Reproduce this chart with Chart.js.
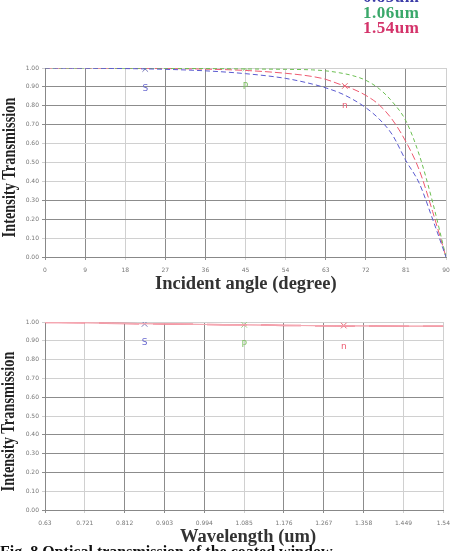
<!DOCTYPE html>
<html>
<head>
<meta charset="utf-8">
<script src="https://cdn.jsdelivr.net/npm/chart.js@4"></script>
<style>
  html, body { margin: 0; padding: 0; background: #fff; }
  #page { position: relative; width: 457px; height: 551px; overflow: hidden; background: #fff; }
  canvas { position: absolute; left: 0; }
  .txt { position: absolute; font-family: "Liberation Serif", "DejaVu Serif", serif; font-weight: bold; white-space: nowrap; }
  .legend { font-size: 17px; left: 363px; letter-spacing: 0.5px; }
  .ytitle { font-size: 18px; color: #222; width: 200px; text-align: center; transform-origin: center center; transform: rotate(-90deg) scaleX(0.8); }
  .xtitle { font-size: 18.5px; color: #333; }
</style>
</head>
<body>
<div id="page">
  <canvas id="angleChart" width="457" height="300" style="top:0"></canvas>
  <canvas id="waveChart" width="457" height="251" style="top:300px"></canvas>

  <div class="txt legend" style="top:-13px; color:#3d3da8;">0.85um</div>
  <div class="txt legend" style="top:3px; color:#3aa86a;">1.06um</div>
  <div class="txt legend" style="top:18px; color:#d4336a;">1.54um</div>

  <div class="txt ytitle" style="left:-91px; top:157px;">Intensity Transmission</div>
  <div class="txt ytitle" style="left:-92px; top:411px;">Intensity Transmission</div>

  <div class="txt xtitle" style="left:155px; top:273px;">Incident angle (degree)</div>
  <div class="txt xtitle" style="left:180px; top:526px;">Wavelength (um)</div>

  <div class="txt" style="left:0; top:543px; font-size:16px; color:#111;">Fig. 8 Optical transmission of the coated window</div>
</div>

<script>
// Top chart: transmission vs incident angle
const angleX = [0, 9, 18, 27, 36, 45, 54, 60, 63, 66, 69, 72, 75, 78, 81, 84, 87, 90];
const blueAngle = [1.0, 0.999, 0.997, 0.993, 0.985, 0.97, 0.945, 0.915, 0.895, 0.87, 0.835, 0.79, 0.73, 0.645, 0.51, 0.39, 0.2, 0.0];
const greenAngle = [1.0, 1.0, 0.999, 0.998, 0.997, 0.995, 0.993, 0.99, 0.985, 0.975, 0.96, 0.935, 0.89, 0.82, 0.72, 0.54, 0.29, 0.0];
const redAngle = [1.0, 1.0, 0.999, 0.997, 0.994, 0.987, 0.972, 0.955, 0.94, 0.915, 0.89, 0.855, 0.805, 0.725, 0.61, 0.46, 0.24, 0.0];
const angleTicks = [0, 9, 18, 27, 36, 45, 54, 63, 72, 81, 90];
const angleTickLabels = ['0', '9', '18', '27', '36', '45', '54', '63', '72', '81', '90'];

// Bottom chart: transmission vs wavelength
const waveX = [0.63, 0.721, 0.812, 0.903, 0.994, 1.085, 1.176, 1.267, 1.358, 1.449, 1.54];
const blueWave = [0.998, 0.996, 0.992, 0.99, 0.987, 0.985, 0.982, 0.98, 0.979, 0.978, 0.978];
const greenWave = [0.998, 0.996, 0.992, 0.99, 0.987, 0.985, 0.982, 0.98, 0.979, 0.978, 0.978];
const redWave = [0.998, 0.996, 0.992, 0.99, 0.987, 0.985, 0.982, 0.98, 0.979, 0.978, 0.978];
const waveTickLabels = ['0.63', '0.721', '0.812', '0.903', '0.994', '1.085', '1.176', '1.267', '1.358', '1.449', '1.54'];

const yTicks = [0, 0.1, 0.2, 0.3, 0.4, 0.5, 0.6, 0.7, 0.8, 0.9, 1.0];

// Markers and their letters
const markerLetters = ['S', 'P', 'n'];
const angleMarkerX = [22.5, 45, 67.3];
const angleMarkerY = [0.995, 0.999, 0.905];
const angleLetterY = [0.89, 0.9, 0.8];
const waveMarkerX = [0.8575, 1.085, 1.3125];
const waveMarkerY = [0.99, 0.985, 0.981];
const waveLetterY = [0.89, 0.88, 0.87];

const BLUE = '#5a5ad0';
const GREEN = '#6cbf52';
const RED = '#ee5a70';
const markerColors = ['#7a7ab8', '#9ccf8a', '#e86a7a'];
const letterColors = ['#6a6ad0', '#7cc060', '#ec5a70'];

function toPoints(xs, ys) {
    return xs.map((x, i) => ({ x: x, y: ys[i] }));
}

function lineSet(label, xs, ys, color, dash, width) {
    return {
        label: label,
        data: toPoints(xs, ys),
        borderColor: color,
        backgroundColor: color,
        borderWidth: width || 1,
        borderDash: dash,
        pointRadius: 0,
        showLine: true,
        cubicInterpolationMode: 'monotone',
        fill: false
    };
}

function markerSet(xs, ys) {
    return {
        label: 'markers',
        data: toPoints(xs, ys),
        pointStyle: 'crossRot',
        pointRadius: 4,
        pointBorderWidth: 1,
        pointBorderColor: markerColors,
        showLine: false
    };
}

// Draw S / P / n letters under the markers
const letterPlugin = {
    id: 'letters',
    afterDatasetsDraw(chart, args, opts) {
        const ctx = chart.ctx;
        const x = chart.scales.x;
        const y = chart.scales.y;
        ctx.save();
        ctx.font = '9px "DejaVu Sans"';
        ctx.textAlign = 'center';
        ctx.textBaseline = 'middle';
        markerLetters.forEach((t, i) => {
            ctx.fillStyle = letterColors[i];
            ctx.fillText(t, x.getPixelForValue(opts.xs[i]), y.getPixelForValue(opts.ys[i]));
        });
        ctx.restore();
    }
};

function makeOptions(xTicks, xLabels, padding, hGrid, vGrid, letterX, letterY) {
    return {
        responsive: false,
        animation: false,
        layout: { padding: padding },
        plugins: {
            legend: { display: false },
            tooltip: { enabled: false },
            letters: { xs: letterX, ys: letterY }
        },
        scales: {
            x: {
                type: 'linear',
                min: xTicks[0],
                max: xTicks[xTicks.length - 1],
                afterBuildTicks: function(axis) {
                    axis.ticks = xTicks.map(v => ({ value: v }));
                },
                afterFit: function(axis) { axis.height = 16; },
                ticks: {
                    autoSkip: false,
                    maxRotation: 0,
                    padding: 7,
                    color: '#777',
                    font: { size: 6, family: 'DejaVu Sans' },
                    callback: function(value, index) { return xLabels[index]; }
                },
                grid: {
                    color: function(c) { return vGrid[c.index] || '#aaa'; },
                    lineWidth: 1,
                    tickLength: 3
                },
                border: { color: '#888' }
            },
            y: {
                min: 0,
                max: 1,
                afterBuildTicks: function(axis) {
                    axis.ticks = yTicks.map(v => ({ value: v }));
                },
                afterFit: function(axis) { axis.width = 45; },
                ticks: {
                    padding: 3,
                    color: '#777',
                    font: { size: 6, family: 'DejaVu Sans' },
                    callback: function(value) { return value.toFixed(2); }
                },
                grid: {
                    color: function(c) { return hGrid[c.index] || '#aaa'; },
                    lineWidth: 1,
                    tickLength: 3
                },
                border: { color: '#888' }
            }
        }
    };
}

const D = '#8c8c8c';
const L = '#d0d0d0';

new Chart(document.getElementById('angleChart').getContext('2d'), {
    type: 'scatter',
    data: {
        datasets: [
            lineSet('0.85um', angleX, blueAngle, BLUE, [5, 3]),
            lineSet('1.06um', angleX, greenAngle, GREEN, [4, 3]),
            lineSet('1.54um', angleX, redAngle, RED, [7, 3]),
            markerSet(angleMarkerX, angleMarkerY)
        ]
    },
    options: makeOptions(angleTicks, angleTickLabels,
        { top: 68, bottom: 27, left: 0, right: 11 },
        [D, L, D, D, L, L, L, D, D, D, L],
        [D, D, L, D, D, L, L, D, D, D, L],
        angleMarkerX, angleLetterY),
    plugins: [letterPlugin]
});

new Chart(document.getElementById('waveChart').getContext('2d'), {
    type: 'scatter',
    data: {
        datasets: [
            lineSet('0.85um', waveX, blueWave, '#f4a8b2', []),
            lineSet('1.06um', waveX, greenWave, '#f4a8b2', []),
            lineSet('1.54um', waveX, redWave, RED, [40, 14], 1.5),
            markerSet(waveMarkerX, waveMarkerY)
        ]
    },
    options: makeOptions(waveX, waveTickLabels,
        { top: 22, bottom: 25, left: 0, right: 11 },
        [D, L, D, D, D, L, D, L, L, L, L],
        [D, L, D, D, D, L, D, D, D, L, L],
        waveMarkerX, waveLetterY),
    plugins: [letterPlugin]
});
</script>
</body>
</html>
